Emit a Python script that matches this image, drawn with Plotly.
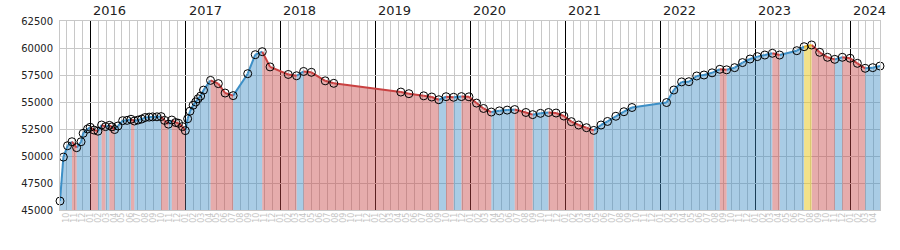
import plotly.graph_objects as go
import pandas as pd

dates = [
    "2015-09-06", "2015-09-19", "2015-10-05", "2015-10-22", "2015-11-09", "2015-11-26", "2015-12-04", "2015-12-21", "2015-12-31",
    "2016-01-15", "2016-01-30", "2016-02-13", "2016-02-28", "2016-03-14", "2016-03-24", "2016-04-03", "2016-04-16", "2016-05-04",
    "2016-05-21", "2016-06-05", "2016-06-18", "2016-07-02", "2016-07-16", "2016-07-29", "2016-08-14", "2016-08-27", "2016-09-13",
    "2016-09-29", "2016-10-12", "2016-10-27", "2016-11-09", "2016-11-24", "2016-12-05", "2016-12-20", "2016-12-31",
    "2017-01-09", "2017-01-18", "2017-01-30", "2017-02-09", "2017-02-18", "2017-02-28", "2017-03-11", "2017-04-07", "2017-05-07",
    "2017-06-02", "2017-07-03", "2017-08-28", "2017-09-26", "2017-10-23", "2017-11-22",
    "2018-01-31", "2018-03-04", "2018-03-31", "2018-04-30", "2018-06-22", "2018-07-25",
    "2019-04-09", "2019-05-10", "2019-07-06", "2019-08-06", "2019-09-02", "2019-09-30", "2019-10-29", "2019-11-28", "2019-12-27",
    "2020-01-25", "2020-02-21", "2020-03-22", "2020-04-22", "2020-05-22", "2020-06-20", "2020-08-02", "2020-08-28", "2020-09-27",
    "2020-10-28", "2020-11-26", "2020-12-26",
    "2021-01-24", "2021-02-21", "2021-03-23", "2021-04-20", "2021-05-18", "2021-06-12", "2021-07-14", "2021-08-14", "2021-09-14",
    "2022-01-25", "2022-02-22", "2022-03-24", "2022-04-21", "2022-05-21", "2022-06-18", "2022-07-19", "2022-08-18", "2022-09-13",
    "2022-10-14", "2022-11-13", "2022-12-12",
    "2023-01-09", "2023-02-07", "2023-03-08", "2023-04-05", "2023-06-10", "2023-07-08", "2023-08-06", "2023-09-06", "2023-10-06",
    "2023-11-03", "2023-12-02",
    "2024-01-01", "2024-01-29", "2024-02-28", "2024-03-28", "2024-04-25",
]

values = [
    45830, 49900, 50950, 51320, 50770, 51320, 52100, 52500, 52660,
    52400, 52300, 52870, 52720, 52840, 52700, 52450, 52780, 53270,
    53300, 53400, 53240, 53330, 53420, 53560, 53600, 53620, 53630,
    53650, 53300, 52950, 53330, 53100, 53030, 52720, 52350,
    53450, 54150, 54700, 55000, 55300, 55550, 56100, 57000, 56700,
    55830, 55590, 57620, 59380, 59660, 58250,
    57550, 57430, 57830, 57750, 56960, 56730,
    55920, 55770, 55570, 55460, 55210, 55490, 55440, 55500, 55480,
    54900, 54400, 54070, 54180, 54250, 54300, 54030, 53830, 53950,
    54030, 53980, 53700,
    53180, 52870, 52620, 52370, 52870, 53200, 53680, 54100, 54490,
    54950, 56110, 56860, 56880, 57410, 57500, 57700, 58030, 57980,
    58180, 58650, 58980,
    59200, 59350, 59510, 59350, 59750, 60120, 60280, 59600, 59140,
    58950, 59140,
    59050, 58580, 58120, 58180, 58330,
]

year_labels = [2016, 2017, 2018, 2019, 2020, 2021, 2022, 2023, 2024]
y_ticks = [45000, 47500, 50000, 52500, 55000, 57500, 60000, 62500]
Y_RANGE = [45000, 62500]

FONT = "DejaVu Sans"
GRID = "#c8c8c8"
LINE_COL = {"up": "#3d8fc6", "down": "#c94141", "peak": "#e6b422"}
FILL_COL = {"up": "rgba(60,140,195,0.44)", "down": "rgba(200,70,70,0.45)", "peak": "rgba(232,200,40,0.55)"}

x = pd.to_datetime(dates)
peak_idx = values.index(max(values))

groups = {k: {"fx": [], "fy": [], "lx": [], "ly": []} for k in LINE_COL}
for i in range(len(values) - 1):
    if i + 1 == peak_idx:
        kind = "peak"
    elif values[i + 1] >= values[i]:
        kind = "up"
    else:
        kind = "down"
    g = groups[kind]
    g["fx"] += [x[i], x[i], x[i + 1], x[i + 1], None]
    g["fy"] += [Y_RANGE[0], values[i], values[i + 1], Y_RANGE[0], None]
    g["lx"] += [x[i], x[i + 1], None]
    g["ly"] += [values[i], values[i + 1], None]

fig = go.Figure()
for kind, g in groups.items():
    fig.add_trace(go.Scatter(x=g["fx"], y=g["fy"], mode="lines", fill="toself",
                             fillcolor=FILL_COL[kind], line=dict(width=0),
                             hoverinfo="skip", showlegend=False))
for kind, g in groups.items():
    fig.add_trace(go.Scatter(x=g["lx"], y=g["ly"], mode="lines",
                             line=dict(color=LINE_COL[kind], width=2),
                             hoverinfo="skip", showlegend=False))
# markers on the overlaid month-label axis (same range, matched to x)
fig.add_trace(go.Scatter(x=x, y=values, mode="markers", cliponaxis=False, xaxis="x2",
                         marker=dict(symbol="circle-open", size=8, color="black",
                                     line=dict(width=1, color="black")),
                         showlegend=False))

for yr in year_labels:
    d = f"{yr}-01-01"
    fig.add_annotation(x=d, y=1, xref="x", yref="paper", text=str(yr), showarrow=False,
                       xanchor="left", yanchor="bottom", xshift=1, yshift=1,
                       font=dict(family=FONT, size=13, color="#222"))

fig.update_layout(
    width=900, height=250,
    margin=dict(l=60, r=20, t=21, b=40),
    paper_bgcolor="white", plot_bgcolor="white",
    font=dict(family=FONT),
    xaxis=dict(type="date", range=[x[0], x[-1]], dtick="M12", tick0=f"{year_labels[0]}-01-01",
               showticklabels=False, ticks="",
               showgrid=True, gridcolor="black", gridwidth=1,
               minor=dict(dtick="M1", tick0="2015-10-01", showgrid=True,
                          gridcolor=GRID, gridwidth=1, ticks=""),
               showline=True, linecolor=GRID, mirror=True, zeroline=False),
    xaxis2=dict(type="date", overlaying="x", matches="x", side="bottom",
                range=[x[0], x[-1]], dtick="M1", tick0="2015-10-01",
                tickformat="%m", tickangle=-90, ticks="",
                tickfont=dict(family=FONT, size=8, color="#c4c4c4"),
                showgrid=False, showline=False, zeroline=False),
    yaxis=dict(range=Y_RANGE, tickvals=y_ticks, tickformat="d", ticks="",
               tickfont=dict(family=FONT, size=10, color="#222"),
               showgrid=True, gridcolor=GRID, gridwidth=1, ticklabelstandoff=4,
               showline=True, linecolor=GRID, mirror=True, zeroline=False),
)

fig.write_html("out.html")
